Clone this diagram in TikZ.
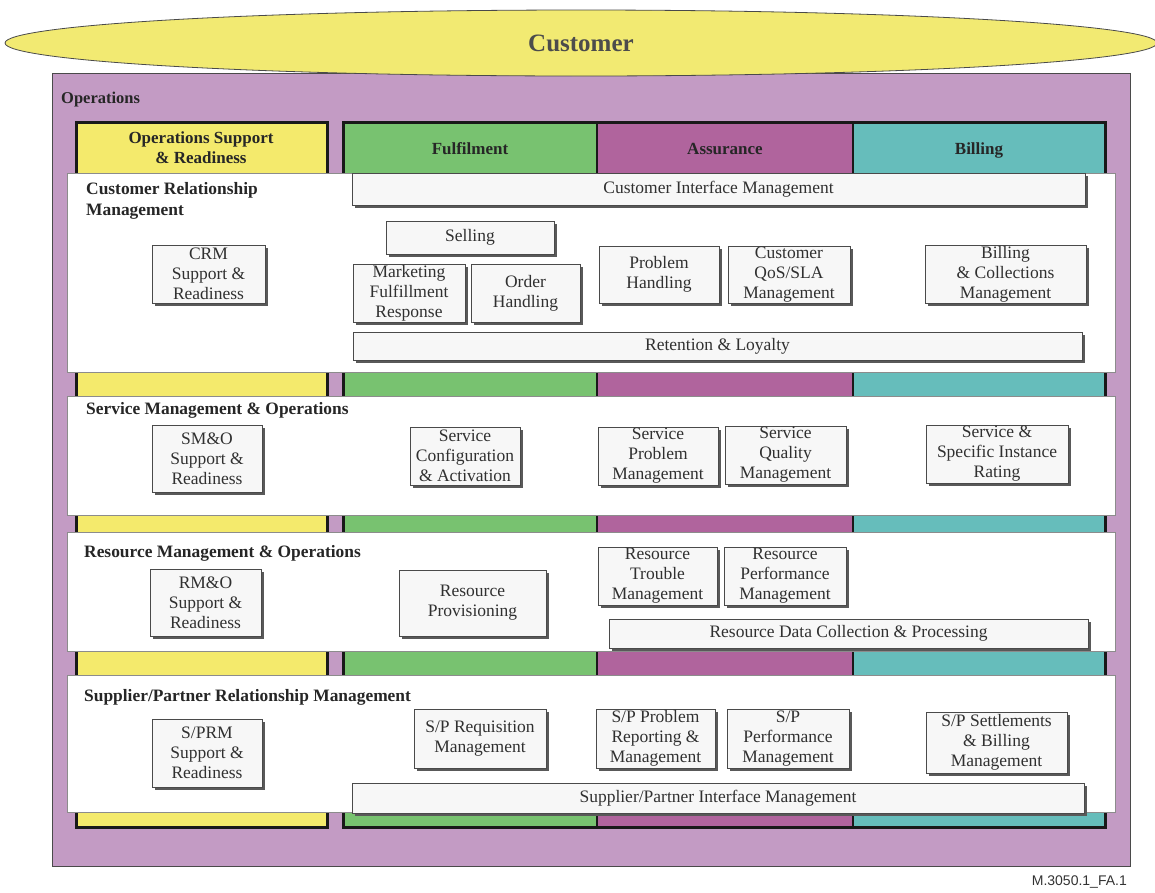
\documentclass[tikz,border=0pt]{standalone}
\usepackage{fontspec}
\setmainfont{Liberation Serif}
\newfontfamily\boxserif{Liberation Serif}
\newfontfamily\tagsans{Liberation Sans}
\usetikzlibrary{shadows,shapes.geometric}
\definecolor{custyellow}{HTML}{F2EA72}
\definecolor{opspurple}{HTML}{C39BC4}
\definecolor{colyellow}{HTML}{F4EA6C}
\definecolor{colgreen}{HTML}{78C270}
\definecolor{colmagenta}{HTML}{B0649D}
\definecolor{colteal}{HTML}{66BDBB}
\definecolor{boxfill}{HTML}{F7F7F7}
\definecolor{boxtext}{HTML}{303030}
\definecolor{edgegray}{HTML}{4A4A4A}
\tikzset{
  pbox/.style={draw=edgegray, fill=boxfill, line width=1pt, inner sep=0pt,
    align=center, text=boxtext, font=\boxserif\fontsize{17.5}{20}\selectfont,
    drop shadow={shadow xshift=3pt, shadow yshift=-3pt, fill=black!65, opacity=1}},
  bandlabel/.style={anchor=base west, inner sep=0pt, align=left,
    font=\bfseries\fontsize{17.4}{21}\selectfont, text=black!85},
  headlabel/.style={inner sep=0pt, align=center,
    font=\bfseries\fontsize{17}{20}\selectfont, text=black!85},
  band/.style={draw=black!45, fill=white, line width=0.8pt},
  colframe/.style={draw=black!90, line width=3pt},
}
\newcommand\pbox[6]{\node[pbox, minimum width={(#4-#2)*1pt}, minimum height={(#5-#3)*1pt}] (#1) at ({(#2+#4)/2},{(#3+#5)/2}) {#6};}
\begin{document}
\begin{tikzpicture}[x=1pt,y=-1pt]
\useasboundingbox (0,0) rectangle (1155,892);
% operations frame
\draw[draw=edgegray, fill=opspurple, line width=1pt] (52,73) rectangle (1130,866);
\node[anchor=base west, inner sep=0pt, font=\bfseries\fontsize{16.5}{18}\selectfont, text=black!85] (ops) at (61,103) {Operations};
% customer ellipse
\node[ellipse, draw=edgegray, fill=custyellow, line width=0.8pt, minimum width=1152pt, minimum height=66pt, inner sep=0pt,
  font=\bfseries\fontsize{25}{27}\selectfont, text=black!70] (cust) at (581,43) {Customer};
% columns
\fill[colyellow] (76,122) rectangle (327,827);
\fill[colgreen] (343,122) rectangle (597,827);
\fill[colmagenta] (597,122) rectangle (853,827);
\fill[colteal] (853,122) rectangle (1105,827);
\draw[black!90, line width=1.5pt] (597,122) -- (597,827);
\draw[black!90, line width=1.5pt] (853,122) -- (853,827);
\draw[colframe] (76,122) rectangle (327,827);
\draw[colframe] (343,122) rectangle (1105,827);
\node[headlabel] (hosr) at (201,148) {Operations Support\\\& Readiness};
\node[headlabel, anchor=base] (hful) at (470,154) {Fulfilment};
\node[headlabel, anchor=base] (hass) at (725,154) {Assurance};
\node[headlabel, anchor=base] (hbil) at (979,154) {Billing};
% bands
\draw[band] (67,173) rectangle (1115,372);
\draw[band] (67,396) rectangle (1115,515);
\draw[band] (67,532) rectangle (1115,651);
\draw[band] (67,675) rectangle (1115,812);
\node[bandlabel, anchor=north west] (lcrm) at (86,182) {Customer Relationship\\Management};
\node[bandlabel] (lsmo) at (86,414) {Service Management \& Operations};
\node[bandlabel] (lrmo) at (84,557) {Resource Management \& Operations};
\node[bandlabel] (lspr) at (84,701) {Supplier/Partner Relationship Management};
% CRM
\pbox{cim}{352}{173}{1085}{205}{Customer Interface Management}
\pbox{sell}{386}{221}{554}{254}{Selling}
\pbox{mfr}{353}{264}{465}{322}{Marketing\\Fulfillment\\Response}
\pbox{oh}{471}{264}{580}{322}{Order\\Handling}
\pbox{ph}{599}{246}{719}{303}{Problem\\Handling}
\pbox{qos}{728}{246}{850}{303}{Customer\\QoS/SLA\\Management}
\pbox{bcm}{925}{245}{1086}{303}{Billing\\\& Collections\\Management}
\pbox{crmsr}{152}{245}{265}{303}{CRM\\Support \&\\Readiness}
\pbox{rl}{353}{332}{1082}{360}{Retention \& Loyalty}
% SM&O
\pbox{smosr}{152}{425}{262}{492}{SM\&O\\Support \&\\Readiness}
\pbox{sca}{410}{427}{520}{485}{Service\\Configuration\\\& Activation}
\pbox{spm}{598}{427}{718}{485}{Service\\Problem\\Management}
\pbox{sqm}{725}{426}{846}{484}{Service\\Quality\\Management}
\pbox{ssir}{926}{425}{1068}{483}{Service \&\\Specific Instance\\Rating}
% RM&O
\pbox{rmosr}{150}{569}{261}{636}{RM\&O\\Support \&\\Readiness}
\pbox{rp}{399}{570}{546}{636}{Resource\\Provisioning}
\pbox{rtm}{598}{547}{717}{605}{Resource\\Trouble\\Management}
\pbox{rpm}{724}{547}{846}{605}{Resource\\Performance\\Management}
\pbox{rdc}{609}{619}{1088}{648}{Resource Data Collection \& Processing}
% S/PRM
\pbox{sprsr}{152}{719}{262}{787}{S/PRM\\Support \&\\Readiness}
\pbox{sprq}{414}{709}{546}{768}{S/P Requisition\\Management}
\pbox{sppr}{596}{709}{715}{768}{S/P Problem\\Reporting \&\\Management}
\pbox{sppm}{727}{709}{849}{768}{S/P\\Performance\\Management}
\pbox{spsb}{926}{712}{1067}{773}{S/P Settlements\\\& Billing\\Management}
\pbox{spim}{352}{783}{1084}{813}{Supplier/Partner Interface Management}
% tag
\node[anchor=east, inner sep=0pt, font=\tagsans\fontsize{14}{16}\selectfont, text=black!80] (tag) at (1127,882) {M.3050.1\_FA.1};
\end{tikzpicture}
\end{document}
